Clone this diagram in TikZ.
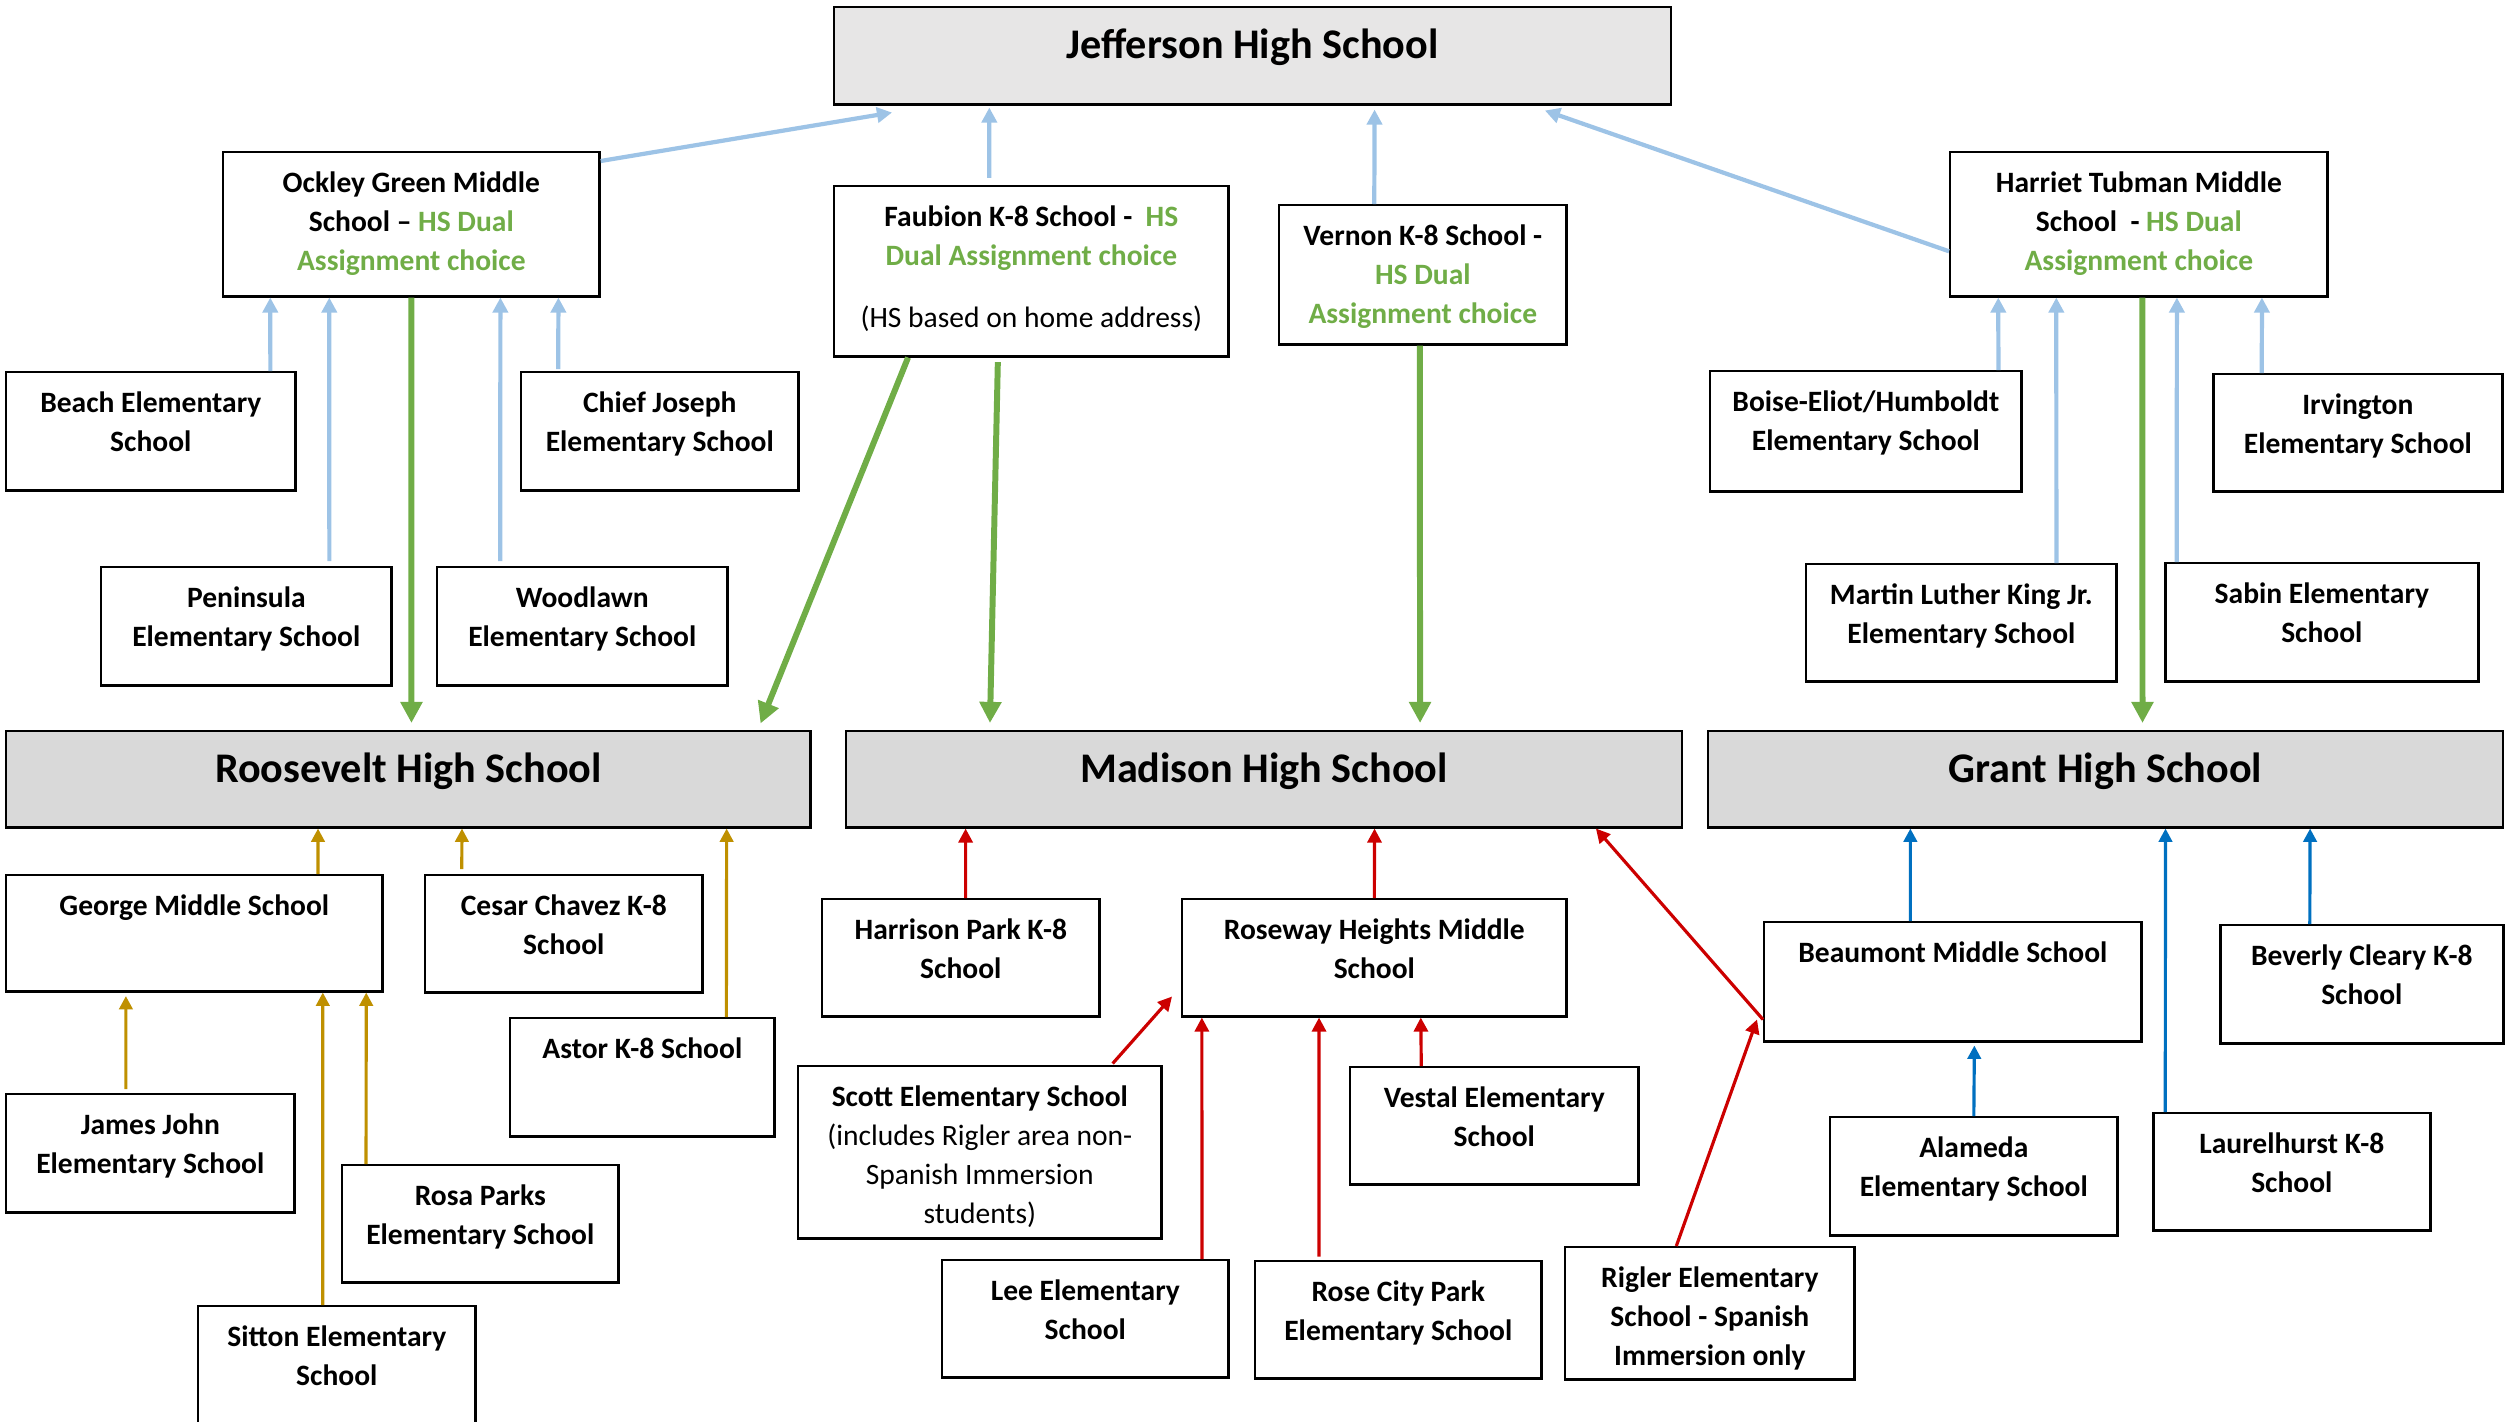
\documentclass[tikz,border=0pt]{standalone}
\usepackage{fontspec}
\setmainfont{Carlito}
\usepackage{tikz}
\usetikzlibrary{arrows.meta}

\definecolor{lightblue}{HTML}{9DC3E6}
\definecolor{dualgreen}{HTML}{70AD47}
\definecolor{gold}{HTML}{BF9000}
\definecolor{darkred}{HTML}{CC0000}
\definecolor{grantblue}{HTML}{0070C0}
\definecolor{jeffgray}{HTML}{E7E6E6}
\definecolor{hsgray}{HTML}{D9D9D9}

\begin{document}
\begin{tikzpicture}[
        x=0.01cm, y=-0.01cm,
        box/.style={draw, line width=0.7pt, inner sep=0pt, anchor=north west},
        hs/.style={box, fill=hsgray},
        dims/.style 2 args={minimum width=#1cm, minimum height=#2cm},
        txt/.style={anchor=north, inner sep=0pt, yshift=-5.8pt, align=center,
                    font=\fontsize{8.4}{11.1}\selectfont\bfseries},
        htxt/.style={anchor=north, inner sep=0pt, yshift=-6.4pt, align=center,
                     font=\fontsize{12}{14}\selectfont\bfseries},
        lb/.style={->, draw=lightblue, line width=1.2pt, >={Triangle[length=4.3pt, width=4.3pt]}},
        gr/.style={->, draw=dualgreen, line width=1.7pt, shorten >=2pt, >={Triangle[length=6pt, width=6pt]}},
        gd/.style={->, draw=gold, line width=0.9pt, >={Triangle[length=3.8pt, width=3.8pt]}},
        rd/.style={->, draw=darkred, line width=0.9pt, >={Triangle[length=4pt, width=4pt]}},
        bl/.style={->, draw=grantblue, line width=0.9pt, >={Triangle[length=3.8pt, width=3.8pt]}},
    ]
    \useasboundingbox (0,0) rectangle (2516,1421);

    \node[box, fill=jeffgray, dims={8.36}{0.97}, label={[htxt]north:Jefferson High School}] (jefferson) at (833,6) {};

    \node[box, dims={3.76}{1.44}, label={[txt]north:{Ockley Green Middle\\School -- \textcolor{dualgreen}{HS Dual}\\\textcolor{dualgreen}{Assignment choice}}}] (ockley) at (222,151) {};
    \node[box, dims={3.94}{1.70}, label={[txt]north:{Faubion K-8 School -\ \ \textcolor{dualgreen}{HS}\\\textcolor{dualgreen}{Dual Assignment choice}\\[6.5pt]{\mdseries (HS based on home address)}}}] (faubion) at (833,185) {};
    \node[box, dims={2.87}{1.39}, label={[txt]north:{Vernon K-8 School -\\\textcolor{dualgreen}{HS Dual}\\\textcolor{dualgreen}{Assignment choice}}}] (vernon) at (1278,204) {};
    \node[box, dims={3.77}{1.44}, label={[txt]north:{Harriet Tubman Middle\\School\ \ - \textcolor{dualgreen}{HS Dual}\\\textcolor{dualgreen}{Assignment choice}}}] (tubman) at (1949,151) {};

    \node[box, dims={2.89}{1.18}, label={[txt]north:{Beach Elementary\\School}}] (beach) at (5,371) {};
    \node[box, dims={2.77}{1.18}, label={[txt]north:{Chief Joseph\\Elementary School}}] (chief) at (520,371) {};
    \node[box, dims={2.90}{1.18}, label={[txt]north:{Peninsula\\Elementary School}}] (peninsula) at (100,566) {};
    \node[box, dims={2.90}{1.18}, label={[txt]north:{Woodlawn\\Elementary School}}] (woodlawn) at (436,566) {};
    \node[box, dims={3.11}{1.20}, label={[txt]north:{Boise-Eliot/Humboldt\\Elementary School}}] (boise) at (1709,370) {};
    \node[box, dims={2.89}{1.17}, label={[txt]north:{Irvington\\Elementary School}}] (irvington) at (2212,373) {};
    \node[box, dims={3.10}{1.17}, label={[txt]north:{Martin Luther King Jr.\\Elementary School}}] (mlk) at (1805,563) {};
    \node[box, dims={3.13}{1.18}, label={[txt]north:{Sabin Elementary\\School}}] (sabin) at (2164,562) {};

    \node[hs, dims={8.04}{0.96}, label={[htxt]north:Roosevelt High School}] (roosevelt) at (5,730) {};
    \node[hs, dims={8.35}{0.96}, label={[htxt]north:Madison High School}] (madison) at (845,730) {};
    \node[hs, dims={7.94}{0.96}, label={[htxt]north:Grant High School}] (grant) at (1707,730) {};

    \node[box, dims={3.76}{1.16}, label={[txt]north:George Middle School}] (george) at (5,874) {};
    \node[box, dims={2.77}{1.17}, label={[txt]north:{Cesar Chavez K-8\\School}}] (chavez) at (424,874) {};
    \node[box, dims={2.64}{1.18}, label={[txt]north:Astor K-8 School}] (astor) at (509,1017) {};
    \node[box, dims={2.88}{1.18}, label={[txt]north:{James John\\Elementary School}}] (jamesjohn) at (5,1093) {};
    \node[box, dims={2.76}{1.17}, label={[txt]north:{Rosa Parks\\Elementary School}}] (rosaparks) at (341,1164) {};
    \node[box, dims={2.77}{1.40}, label={[txt]north:{Sitton Elementary\\School}}] (sitton) at (197,1305) {};

    \node[box, dims={2.77}{1.17}, label={[txt]north:{Harrison Park K-8\\School}}] (harrison) at (821,898) {};
    \node[box, dims={3.84}{1.17}, label={[txt]north:{Roseway Heights Middle\\School}}] (roseway) at (1181,898) {};
    \node[box, dims={3.63}{1.72}, label={[txt]north:{Scott Elementary School\\{\mdseries (includes Rigler area non-}\\{\mdseries Spanish Immersion}\\{\mdseries students)}}}] (scott) at (797,1065) {};
    \node[box, dims={2.86}{1.17}, label={[txt]north:{Lee Elementary\\School}}] (lee) at (941,1259) {};
    \node[box, dims={2.86}{1.17}, label={[txt]north:{Rose City Park\\Elementary School}}] (rosecity) at (1254,1260) {};
    \node[box, dims={2.88}{1.17}, label={[txt]north:{Vestal Elementary\\School}}] (vestal) at (1349,1066) {};
    \node[box, dims={2.89}{1.32}, label={[txt]north:{Rigler Elementary\\School - Spanish\\Immersion only}}] (rigler) at (1564,1246) {};

    \node[box, dims={3.77}{1.19}, label={[txt]north:Beaumont Middle School}] (beaumont) at (1763,921) {};
    \node[box, dims={2.83}{1.18}, label={[txt]north:{Beverly Cleary K-8\\School}}] (beverly) at (2219,924) {};
    \node[box, dims={2.87}{1.18}, label={[txt]north:{Alameda\\Elementary School}}] (alameda) at (1829,1116) {};
    \node[box, dims={2.77}{1.17}, label={[txt]north:{Laurelhurst K-8\\School}}] (laurelhurst) at (2152,1112) {};

    \draw[lb] ([yshift=-0.1cm]ockley.north east) -- ([xshift=0.59cm, yshift=-0.07cm]jefferson.south west);
    \draw[lb] ([xshift=-0.42cm, yshift=0.07cm]faubion.north) -- ([xshift=-2.63cm, yshift=-0.02cm]jefferson.south);
    \draw[lb] ([xshift=-0.485cm]vernon.north) -- ([xshift=1.22cm, yshift=-0.04cm]jefferson.south);
    \draw[lb] ([yshift=-0.27cm]tubman.west) -- ([xshift=-1.27cm, yshift=-0.05cm]jefferson.south east);

    \draw[lb] ([xshift=1.195cm]beach.north) -- ([xshift=-1.41cm]ockley.south);
    \draw[lb] ([xshift=0.83cm, yshift=0.05cm]peninsula.north) -- ([xshift=-0.82cm]ockley.south);
    \draw[lb] ([xshift=-0.82cm, yshift=0.05cm]woodlawn.north) -- ([xshift=0.89cm]ockley.south);
    \draw[lb] ([xshift=-1.015cm, yshift=0.02cm]chief.north) -- ([xshift=1.47cm]ockley.south);

    \draw[lb] ([xshift=1.325cm]boise.north) -- ([xshift=-1.405cm]tubman.south);
    \draw[lb] ([xshift=0.95cm]mlk.north) -- ([xshift=-0.825cm]tubman.south);
    \draw[lb] ([xshift=-1.45cm]sabin.north) -- ([xshift=0.38cm]tubman.south);
    \draw[lb] ([xshift=-0.96cm]irvington.north) -- ([xshift=1.23cm]tubman.south);

    \draw[gr] (ockley.south) -- ([xshift=0.03cm]roosevelt.north);
    \draw[gr] ([xshift=0.75cm]faubion.south west) -- ([xshift=-0.54cm]roosevelt.north east);
    \draw[gr] ([xshift=-0.335cm, yshift=-0.045cm]faubion.south) -- ([xshift=-2.74cm]madison.north);
    \draw[gr] ([xshift=-0.03cm]vernon.south) -- ([xshift=1.56cm]madison.north);
    \draw[gr] ([xshift=0.035cm]tubman.south) -- ([xshift=0.37cm]grant.north);

    \draw[gd] ([xshift=1.236cm]george.north) -- ([xshift=-0.904cm]roosevelt.south);
    \draw[gd] ([xshift=-1.02cm, yshift=0.05cm]chavez.north) -- ([xshift=0.535cm]roosevelt.south);
    \draw[gd] ([xshift=0.84cm]astor.north) -- ([xshift=3.18cm]roosevelt.south);
    \draw[gd] ([xshift=-0.244cm, yshift=0.04cm]jamesjohn.north) -- ([xshift=-0.684cm, yshift=-0.035cm]george.south);
    \draw[gd] ([xshift=-0.141cm]sitton.north) -- ([xshift=1.284cm]george.south);
    \draw[gd] ([xshift=-1.142cm]rosaparks.north) -- ([xshift=1.718cm]george.south);

    \draw[rd] ([xshift=0.048cm]harrison.north) -- ([xshift=-2.982cm]madison.south);
    \draw[rd] (roseway.north) -- ([xshift=1.105cm]madison.south);
    \draw[rd] ([xshift=-0.5cm, yshift=0.015cm]scott.north east) -- ([xshift=-0.09cm, yshift=0.21cm]roseway.south west);
    \draw[rd] ([xshift=1.166cm]lee.north) -- ([xshift=-1.724cm]roseway.south);
    \draw[rd] ([xshift=-0.793cm, yshift=0.035cm]rosecity.north) -- ([xshift=-0.553cm]roseway.south);
    \draw[rd] ([xshift=-0.73cm]vestal.north) -- ([xshift=0.464cm]roseway.south);
    \draw[rd] ([xshift=-0.335cm]rigler.north) -- ([xshift=-0.06cm, yshift=0.23cm]beaumont.south west);
    \draw[rd] ([yshift=0.23cm]beaumont.south west) -- ([xshift=-0.87cm]madison.south east);

    \draw[bl] ([xshift=-0.425cm]beaumont.north) -- ([xshift=-1.95cm]grant.south);
    \draw[bl] ([xshift=-0.52cm]beverly.north) -- ([xshift=2.045cm]grant.south);
    \draw[bl] ([xshift=-1.265cm]laurelhurst.north) -- ([xshift=0.6cm]grant.south);
    \draw[bl] (alameda.north) -- ([xshift=0.215cm, yshift=-0.03cm]beaumont.south);

    \end{tikzpicture}
\end{document}
